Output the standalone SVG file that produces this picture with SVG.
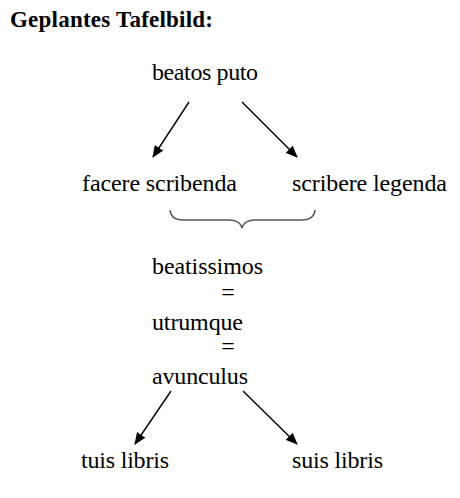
<svg xmlns="http://www.w3.org/2000/svg" width="460" height="498" viewBox="0 0 460 498">
<defs>
<style>
text{font-family:"Liberation Serif","Times New Roman",serif;font-size:24px;fill:#000}
.title{font-weight:bold;font-size:23px}
.arrow{stroke:#000;stroke-width:1.4;fill:none;marker-end:url(#ah)}
.brace{stroke:#555;stroke-width:1.5;fill:none}
</style>
<marker id="ah" viewBox="0 0 12 10" refX="11" refY="5" markerWidth="12" markerHeight="10" markerUnits="userSpaceOnUse" orient="auto">
<path d="M0,0 L12,5 L0,10 Z" fill="#000"/>
</marker>
</defs>
<rect width="460" height="498" fill="#fff"/>
<g id="title"><text class="title" x="10" y="27" textLength="203" lengthAdjust="spacing">Geplantes Tafelbild:</text></g>
<g id="n-beatos"><text x="152" y="80" textLength="106" lengthAdjust="spacing">beatos puto</text></g>
<g id="n-facere"><text x="82" y="191" textLength="155" lengthAdjust="spacing">facere scribenda</text></g>
<g id="n-scribere"><text x="292" y="191" textLength="155" lengthAdjust="spacing">scribere legenda</text></g>
<g id="n-beatissimos"><text x="152" y="274" textLength="111" lengthAdjust="spacing">beatissimos</text></g>
<g id="eq1"><text x="228" y="300" text-anchor="middle">=</text></g>
<g id="n-utrumque"><text x="152" y="330" textLength="91" lengthAdjust="spacing">utrumque</text></g>
<g id="eq2"><text x="228" y="354" text-anchor="middle">=</text></g>
<g id="n-avunculus"><text x="152" y="384" textLength="96" lengthAdjust="spacing">avunculus</text></g>
<g id="n-tuis"><text x="81" y="468" textLength="88" lengthAdjust="spacing">tuis libris</text></g>
<g id="n-suis"><text x="292" y="468" textLength="91" lengthAdjust="spacing">suis libris</text></g>
<g id="connectors">
<line class="arrow" x1="189" y1="102" x2="153" y2="157"/>
<line class="arrow" x1="242" y1="102" x2="297" y2="157"/>
<path class="brace" d="M170,210 Q171,220 183,220 L229,220 Q240,220 242,228 Q244,220 255,220 L302,220 Q314,220 315,210"/>
<line class="arrow" x1="171" y1="391" x2="135" y2="444"/>
<line class="arrow" x1="243" y1="391" x2="297" y2="444"/>
</g>
</svg>
